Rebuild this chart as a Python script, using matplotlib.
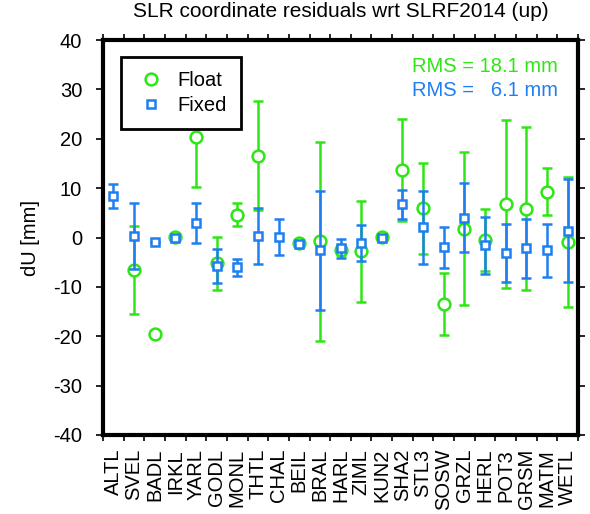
import numpy as np
import matplotlib
matplotlib.use("Agg")
import matplotlib.pyplot as plt
from matplotlib.lines import Line2D

plt.rcParams["axes.unicode_minus"] = False
plt.rcParams["font.family"] = ["Liberation Sans", "DejaVu Sans"]

stations = ["ALTL", "SVEL", "BADL", "IRKL", "YARL", "GODL", "MONL", "THTL", "CHAL",
            "BEIL", "BRAL", "HARL", "ZIML", "KUN2", "SHA2", "STL3", "SOSW", "GRZL",
            "HERL", "POT3", "GRSM", "MATM", "WETL"]
float_val = [np.nan, -6.5, -19.6, 0.1, 20.3, -5.2, 4.6, 16.6, np.nan,
             -1.2, -0.8, -2.6, -2.8, 0.1, 13.7, 5.9, -13.4, 1.8,
             -0.5, 6.8, 5.8, 9.3, -0.9]
float_err = [np.nan, 8.9, 0.0, 0.3, 10.1, 5.4, 2.3, 11.1, np.nan,
             0.3, 20.1, 1.0, 10.2, 0.3, 10.4, 9.2, 6.3, 15.5,
             6.2, 17.1, 16.5, 4.7, 13.2]
fixed_val = [8.4, 0.3, -1.0, 0.0, 2.9, -5.8, -6.0, 0.3, 0.1,
             -1.3, -2.6, -2.2, -1.1, 0.0, 6.7, 2.1, -2.0, 4.0,
             -1.6, -3.1, -2.2, -2.6, 1.4]
fixed_err = [2.5, 6.6, 0.0, 0.3, 4.0, 3.4, 1.7, 5.6, 3.6,
             0.3, 12.0, 2.0, 3.7, 0.3, 3.0, 7.4, 4.2, 7.0,
             5.7, 5.9, 6.0, 5.4, 10.5]
rms_float = 18.1
rms_fixed = 6.1

green = "#2ee614"
blue = "#1e7ff0"
fs = 14.5

fig = plt.figure(figsize=(5.9, 5.14), dpi=100)
ax = fig.add_axes([0.1746, 0.1537, 0.8051, 0.7683])

x = np.arange(len(stations)) + 0.5

ax.errorbar(x, float_val, yerr=float_err, fmt="o", color=green, ecolor=green,
            mfc="white", mec=green, mew=1.8, ms=8.5, elinewidth=1.8,
            capsize=3.5, capthick=1.8, zorder=3)
ax.errorbar(x, fixed_val, yerr=fixed_err, fmt="s", color=blue, ecolor=blue,
            mfc="white", mec=blue, mew=1.8, ms=5.8, elinewidth=1.8,
            capsize=3.5, capthick=1.8, zorder=4)

ax.set_xlim(0, len(stations))
ax.set_ylim(-40, 40)
ax.set_yticks(np.arange(-40, 41, 10))
ax.set_xticks(np.arange(0, len(stations) + 1), minor=False)
ax.set_xticklabels([])
ax.set_xticks(x, minor=True)
ax.set_xticklabels(stations, minor=True, rotation=90, fontsize=fs)
ax.tick_params(axis="x", which="minor", length=0, pad=10)
ax.tick_params(axis="x", which="major", direction="out", length=4, width=1.2,
               top=True, bottom=True)
ax.tick_params(axis="y", which="major", direction="out", length=5, width=1.2,
               left=True, right=True, labelsize=fs, pad=10)

for sp in ax.spines.values():
    sp.set_linewidth(3)

ax.set_ylabel("dU [mm]", fontsize=fs)
ax.yaxis.set_label_coords(-0.133, 0.5)
fig.text(0.578, 0.977, "SLR coordinate residuals wrt SLRF2014 (up)", fontsize=15,
         ha="center", va="center")

handles = [Line2D([], [], marker="o", ls="none", mfc="white", mec=green, mew=1.8, ms=8.5),
           Line2D([], [], marker="s", ls="none", mfc="white", mec=blue, mew=1.8, ms=5.8)]
leg = ax.legend(handles, ["Float", "Fixed"], loc="upper left",
                bbox_to_anchor=(0.038, 0.957), borderaxespad=0, frameon=True,
                fancybox=False, edgecolor="black", framealpha=1, borderpad=0.7,
                handletextpad=0.5, handlelength=1.6, labelspacing=0.3,
                prop={"size": fs})
leg.get_frame().set_linewidth(2)
leg.set_zorder(10)

ax.text(0.958, 0.932, f"RMS = {rms_float:.1f} mm", transform=ax.transAxes, ha="right",
        va="center", color=green, fontsize=fs)
ax.text(0.958, 0.873, f"RMS =   {rms_fixed:.1f} mm", transform=ax.transAxes, ha="right",
        va="center", color=blue, fontsize=fs)

fig.savefig("out.png", dpi=100)
